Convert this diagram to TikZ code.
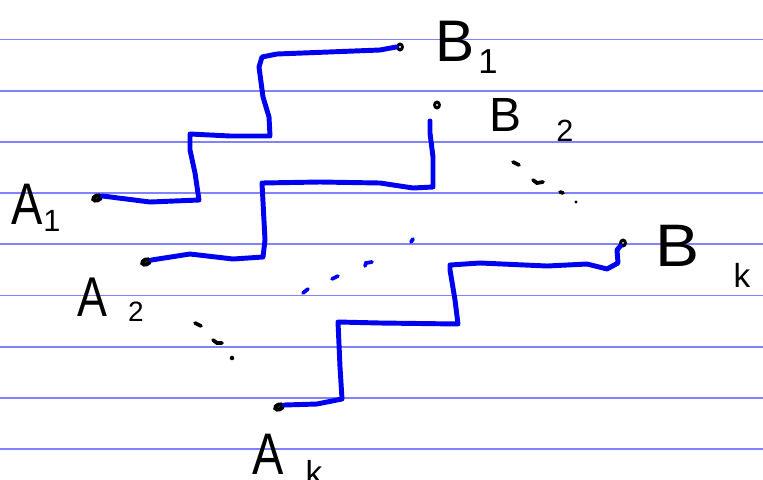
\documentclass[tikz,border=0pt]{standalone}
\usepackage{graphicx}
\usepackage{fontspec}
\setmainfont{Liberation Sans}
\usetikzlibrary{shapes.geometric}
\definecolor{ruleblue}{RGB}{130,130,252}
\definecolor{pen}{RGB}{0,0,240}
\newcommand{\narrow}[1]{\scalebox{0.8}[1]{#1}}
\begin{document}
\begin{tikzpicture}[x=0.75pt,y=-0.75pt,
  ruleline/.style={draw=ruleblue,line width=1.25pt},
  wire/.style={draw=pen,line width=3.7pt,line join=round,line cap=round},
  bdash/.style={draw=pen,line width=2.8pt,line cap=round},
  kdash/.style={draw=black,line width=2.8pt,line cap=round},
  bigdot/.style={ellipse,draw=black,line width=3pt,inner sep=0pt,minimum width=5.8pt,minimum height=3.6pt,rotate=20},
  smalldot/.style={ellipse,draw=black,line width=2.2pt,inner sep=0pt,minimum width=3.6pt,minimum height=4.4pt},
  lbl/.style={inner sep=0pt,text=black}]
\useasboundingbox (0,0) rectangle (763,479);
\fill[white] (0,0) rectangle (763,479);
\foreach \k in {0,...,8} \draw[ruleline] (0,39.5+51.2*\k) -- (763,39.5+51.2*\k);

% dots
\node[bigdot] (A1d) at (97,198) {};
\node[bigdot] (A2d) at (146,262) {};
\node[bigdot] (Akd) at (279,407) {};
\node[smalldot] (B1d) at (400,47) {};
\node[smalldot] (B2d) at (437,105) {};
\node[smalldot] (Bkd) at (623,243) {};

% labels
\node[lbl,font=\fontsize{44}{44}\selectfont] (A1) at (27,204) {\narrow{A}};
\node[lbl,font=\fontsize{23}{23}\selectfont] (A1s) at (52,221) {1};
\node[lbl,font=\fontsize{42}{42}\selectfont] (A2) at (92,297) {\narrow{A}};
\node[lbl,font=\fontsize{21}{21}\selectfont] (A2s) at (136,312) {2};
\node[lbl,font=\fontsize{44}{44}\selectfont] (Ak) at (268,454) {\narrow{A}};
\node[lbl,font=\fontsize{25}{25}\selectfont] (Aks) at (314,472) {k};
\node[lbl,font=\fontsize{44}{44}\selectfont] (B1) at (455,41) {B};
\node[lbl,font=\fontsize{26}{26}\selectfont] (B1s) at (488,62) {1};
\node[lbl,font=\fontsize{36}{36}\selectfont] (B2) at (505,115) {B};
\node[lbl,font=\fontsize{23}{23}\selectfont] (B2s) at (565,131) {2};
\node[lbl,font=\fontsize{45}{45}\selectfont] (Bk) at (677,246) {\scalebox{1.1}[1]{B}};
\node[lbl,font=\fontsize{25}{25}\selectfont] (Bks) at (742,275) {k};

% wires
\coordinate (B2e) at (430,121);
\draw[wire] (A1d.east) -- (150,202) -- (199,200) -- (195,173) -- (190,150) -- (190,134)
  -- (230,136) -- (270,136) -- (269,117) -- (263,97) -- (259,67) -- (262,57)
  -- (277,54) -- (380,50) -- (B1d.west);
\draw[wire] (A2d.east) -- (190,254) -- (233,259) -- (263,257) -- (265,240) -- (262,183)
  -- (320,182) -- (380,183) -- (413,188) -- (433,187) -- (433,157) -- (430,133) -- (B2e);
\draw[wire] (Akd.east) -- (317,404) -- (342,399) -- (340,367) -- (338,322)
  -- (380,323) -- (458,324) -- (455,300) -- (450,270) -- (450,265) -- (480,263)
  -- (547,266) -- (587,264) -- (607,269) -- (618,263) -- (617,250) -- (Bkd.south west);

% blue dashes (more paths)
\draw[bdash] (303,293) -- (308,289);
\draw[bdash] (332,279) -- (338,276);
\draw[bdash] (365,266) -- (366,263) -- (372,262);
\draw[bdash] (411,242) -- (413,239);

% black dots
\draw[kdash] (513,162) -- (519,165);
\draw[kdash] (533,180) -- (537,183) -- (543,182);
\draw[kdash] (560,192) -- (563,193);
\fill[black] (576,202) circle (1.3pt);
\draw[kdash] (195,323) -- (201,326);
\draw[kdash] (213,340) -- (217,343) -- (222,343);
\fill[black] (232,358) circle (1.7pt);
\end{tikzpicture}
\end{document}
